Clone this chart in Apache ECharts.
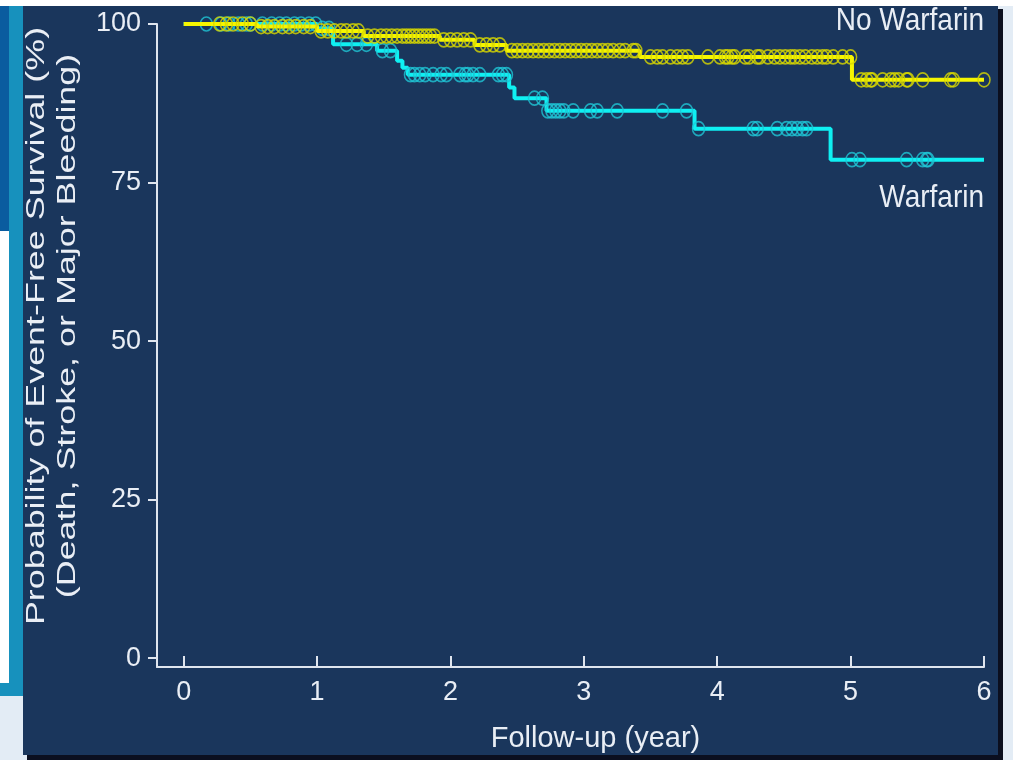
<!DOCTYPE html>
<html>
<head>
<meta charset="utf-8">
<script src="https://cdn.jsdelivr.net/npm/echarts@6/dist/echarts.min.js"></script>
<style>html,body{margin:0;padding:0;background:#e3ecf5;}#c{width:1013px;height:760px;}</style>
</head>
<body>
<div id="c"></div>
<script>
// ---- data ----
const xTicks = [0, 1, 2, 3, 4, 5, 6];
const yTicks = [0, 25, 50, 75, 100];

// Kaplan-Meier steps (time in years, survival in %)
const noWarfarinT = [0, 0.55, 1.0, 1.35, 1.92, 2.18, 2.42, 3.42, 5.01, 6.0];
const noWarfarinS = [100, 99.6, 98.9, 98.1, 97.5, 96.7, 95.8, 94.8, 91.2, 91.2];
const warfarinT = [0, 1.0, 1.12, 1.45, 1.6, 1.64, 1.68, 2.44, 2.48, 2.72, 3.83, 4.85, 6.0];
const warfarinS = [100, 99.3, 96.8, 95.8, 94.2, 93.1, 92.0, 90.0, 88.3, 86.3, 83.5, 78.6, 78.6];

// censoring times
const noWarfarinCensor = [0.27, 0.32, 0.37, 0.44, 0.5,
  0.58, 0.63, 0.68, 0.74, 0.79, 0.84, 0.9, 0.95,
  1.03, 1.08, 1.13, 1.18, 1.22, 1.27, 1.31,
  1.38, 1.43, 1.48, 1.52, 1.56, 1.6, 1.64, 1.67, 1.7, 1.73, 1.76, 1.79, 1.82, 1.85, 1.88,
  1.95, 2.0, 2.05, 2.1, 2.15,
  2.22, 2.27, 2.32, 2.37,
  2.46, 2.5, 2.54, 2.58, 2.62, 2.66, 2.7, 2.74, 2.78, 2.82, 2.86, 2.9, 2.94, 2.98, 3.02, 3.06, 3.1, 3.14, 3.18, 3.22, 3.27, 3.31, 3.37, 3.39,
  3.5, 3.55, 3.59, 3.65, 3.7, 3.74, 3.78, 3.93, 4.02, 4.06, 4.08, 4.11, 4.13, 4.21, 4.24, 4.3, 4.32, 4.38, 4.43, 4.47, 4.51, 4.55, 4.58, 4.62, 4.66, 4.71, 4.75, 4.79, 4.82, 4.87, 4.94, 5.0,
  5.08, 5.12, 5.15, 5.16, 5.24, 5.3, 5.33, 5.36, 5.42, 5.43, 5.54, 5.75, 5.77, 6.0];
const warfarinCensor = [0.17, 0.28, 0.34, 0.41, 0.47, 0.5, 0.59, 0.66, 0.72, 0.77, 0.83, 0.88, 0.94, 0.99,
  1.04, 1.09, 1.22, 1.3, 1.37, 1.49, 1.55,
  1.70, 1.73, 1.77, 1.81, 1.87, 1.93, 1.97, 2.07, 2.11, 2.13, 2.17, 2.22, 2.36, 2.39, 2.42,
  2.63, 2.69, 2.73, 2.76, 2.79, 2.82, 2.85, 2.92, 3.05, 3.1, 3.25, 3.59, 3.77,
  3.86, 4.27, 4.3, 4.45, 4.52, 4.56, 4.6, 4.64, 4.67,
  5.01, 5.07, 5.42, 5.54, 5.57, 5.58];

const groupNames = ['No Warfarin', 'Warfarin'];
const xTitle = 'Follow-up (year)';
const yTitle = 'Probability of Event-Free Survival (%)\n(Death, Stroke, or Major Bleeding)';

// ---- helpers ----
function zip(T, S) { return T.map((t, i) => [t, S[i]]); }
function survAt(T, S, t) { let v = S[0]; for (let i = 0; i < T.length; i++) { if (T[i] <= t) v = S[i]; } return v; }
function censorPts(times, T, S) { return times.map(t => [t, survAt(T, S, t)]); }

const FONT = '"Liberation Sans", Arial, Helvetica, sans-serif';
const TXT = '#e9eef5';
const navy = '#1a365c';

const chart = echarts.init(document.getElementById('c'), null, { renderer: 'canvas' });
chart.setOption({
  animation: false,
  backgroundColor: '#e3ecf5',
  graphic: [
    { type: 'rect', z: -5, shape: { x: 0, y: 0, width: 1013, height: 6 }, style: { fill: '#ffffff' } },
    { type: 'rect', z: -5, shape: { x: 0, y: 6, width: 10, height: 225 }, style: { fill: '#0a5c9f' } },
    { type: 'rect', z: -5, shape: { x: 0, y: 231, width: 10, height: 452 }, style: { fill: '#ffffff' } },
    { type: 'rect', z: -5, shape: { x: 9, y: 6, width: 15, height: 690 }, style: { fill: '#1791bd' } },
    { type: 'rect', z: -5, shape: { x: 0, y: 683, width: 24, height: 13 }, style: { fill: '#1791bd' } },
    { type: 'rect', z: -5, shape: { x: 27, y: 9, width: 976, height: 751 }, style: { fill: '#0b0f1f' } },
    { type: 'rect', z: -4, shape: { x: 23, y: 6, width: 975, height: 749 }, style: { fill: navy } },
    { type: 'text', z: 10, x: 52, y: 326, rotation: Math.PI / 2, scaleX: 1.38, scaleY: 1,
      style: { text: yTitle, fill: TXT, fontSize: 26, fontFamily: FONT, lineHeight: 31, align: 'center', verticalAlign: 'middle' } },
    { type: 'text', z: 10, x: 984, y: 21, scaleY: 1.12,
      style: { text: groupNames[0], fill: TXT, fontSize: 28, fontFamily: FONT, align: 'right', verticalAlign: 'middle' } },
    { type: 'text', z: 10, x: 984, y: 198, scaleY: 1.12,
      style: { text: groupNames[1], fill: TXT, fontSize: 28, fontFamily: FONT, align: 'right', verticalAlign: 'middle' } }
  ],
  grid: { left: 157, right: 29, top: 24, bottom: 93, containLabel: false },
  xAxis: {
    type: 'value', min: -0.2, max: 6,
    name: xTitle, nameLocation: 'middle', nameGap: 57,
    nameTextStyle: { color: TXT, fontSize: 29, fontFamily: FONT, padding: [0, 0, 0, 50] },
    axisLine: { show: true, onZero: false, lineStyle: { color: '#dfe5ee', width: 2 } },
    axisTick: { show: true, inside: true, length: 11, customValues: xTicks, lineStyle: { color: '#dfe5ee', width: 2 } },
    axisLabel: { show: true, customValues: xTicks, margin: 12, color: TXT, fontSize: 27, fontFamily: FONT },
    splitLine: { show: false }
  },
  yAxis: {
    type: 'value', min: -1.4, max: 100,
    axisLine: { show: true, onZero: false, lineStyle: { color: '#dfe5ee', width: 2 } },
    axisTick: { show: true, inside: false, length: 9, customValues: yTicks, lineStyle: { color: '#dfe5ee', width: 2 } },
    axisLabel: { show: true, customValues: yTicks, margin: 16, color: TXT, fontSize: 27, fontFamily: FONT },
    splitLine: { show: false }
  },
  series: [
    { name: groupNames[1], type: 'line', step: 'end', clip: false, symbol: 'none',
      data: zip(warfarinT, warfarinS), lineStyle: { color: '#0ff0f2', width: 4 }, z: 2 },
    { name: groupNames[1] + ' censored', type: 'scatter', clip: false, symbol: 'circle', symbolSize: [12, 14],
      data: censorPts(warfarinCensor, warfarinT, warfarinS),
      itemStyle: { color: 'rgba(0,0,0,0)', borderColor: '#1fc6d6', borderWidth: 1.6 }, z: 3 },
    { name: groupNames[0], type: 'line', step: 'end', clip: false, symbol: 'none',
      data: zip(noWarfarinT, noWarfarinS), lineStyle: { color: '#f6f600', width: 4 }, z: 4 },
    { name: groupNames[0] + ' censored', type: 'scatter', clip: false, symbol: 'circle', symbolSize: [12, 14],
      data: censorPts(noWarfarinCensor, noWarfarinT, noWarfarinS),
      itemStyle: { color: 'rgba(0,0,0,0)', borderColor: '#d8d800', borderWidth: 1.6 }, z: 5 }
  ]
});
</script>
</body>
</html>
